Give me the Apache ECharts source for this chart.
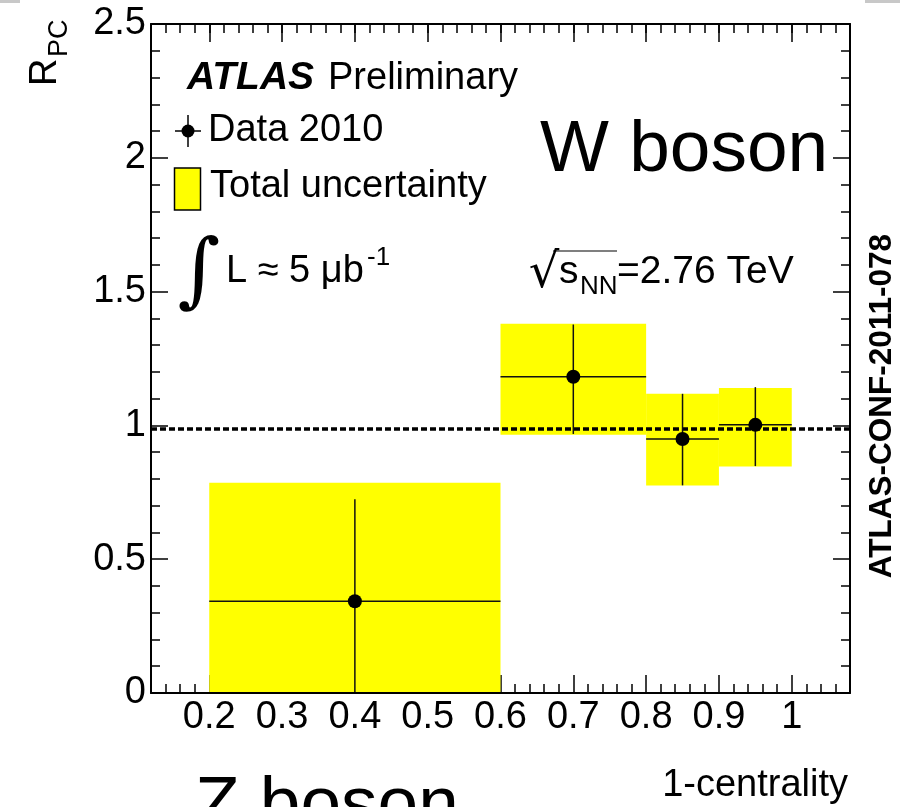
<!DOCTYPE html>
<html>
<head>
<meta charset="utf-8">
<script src="https://cdn.jsdelivr.net/npm/echarts@6/dist/echarts.min.js"></script>
<style>
html,body{margin:0;padding:0;background:#fff;}
#chart{width:900px;height:807px;}
</style>
</head>
<body>
<div id="chart"></div>
<script>
// ---- data ----
const bosons     = ['Z', 'W', 'W', 'W'];
const binCenters = [0.40, 0.70, 0.85, 0.95];
const binLow     = [0.20, 0.60, 0.80, 0.90];
const binHigh    = [0.60, 0.80, 0.90, 1.00];
const rpc        = [0.343, 1.182, 0.949, 1.002];
const errLow     = [-0.04, 0.968, 0.776, 0.848];
const errHigh    = [0.724, 1.377, 1.118, 1.143];
const totLow     = [-0.10, 0.965, 0.775, 0.846];
const totHigh    = [0.786, 1.380, 1.118, 1.140];
const refLevel   = 0.987;

const xMin = 0.12, xMax = 1.08;
const yMin = 0, yMax = 2.5;
const xMajorTicks = [0.2, 0.3, 0.4, 0.5, 0.6, 0.7, 0.8, 0.9, 1.0];
const xMinorTicks = [];
for (let k = 6; k <= 54; k++) xMinorTicks.push(+(k * 0.02).toFixed(2));

const FONT = 'Liberation Sans, Arial, Helvetica, sans-serif';

const boxData = binLow.map((lo, i) => [lo, binHigh[i], totLow[i], totHigh[i]]);
const ptData = binCenters.map((x, i) => [x, rpc[i], binLow[i], binHigh[i], errLow[i], errHigh[i]]);

const chart = echarts.init(document.getElementById('chart'), null, {renderer: 'canvas'});

function xAxisBase(pos) {
  return {
    type: 'value', position: pos, min: xMin, max: xMax,
    splitLine: {show: false}, axisLabel: {show: false}, axisTick: {show: false},
    axisLine: {show: false}
  };
}

const xAxes = [
  Object.assign(xAxisBase('bottom'), {
    z: 10,
    axisLine: {show: true, onZero: false, lineStyle: {color: '#000', width: 2}},
    axisLabel: {show: true, customValues: xMajorTicks, margin: 6, fontSize: 38, fontFamily: FONT, color: '#000',
                formatter: v => String(+v.toFixed(2))}
  }),
  Object.assign(xAxisBase('bottom'), {
    axisTick: {show: true, inside: true, length: 18, customValues: xMajorTicks, lineStyle: {color: '#000', width: 1.5}}
  }),
  Object.assign(xAxisBase('bottom'), {
    axisTick: {show: true, inside: true, length: 9, customValues: xMinorTicks, lineStyle: {color: '#000', width: 1.5}}
  }),
  Object.assign(xAxisBase('top'), {
    z: 10,
    axisLine: {show: true, onZero: false, lineStyle: {color: '#000', width: 2}},
    axisTick: {show: true, inside: true, length: 18, customValues: xMajorTicks, lineStyle: {color: '#000', width: 1.5}}
  }),
  Object.assign(xAxisBase('top'), {
    axisTick: {show: true, inside: true, length: 9, customValues: xMinorTicks, lineStyle: {color: '#000', width: 1.5}}
  })
];

function yAxisBase(pos, labels) {
  return {
    type: 'value', position: pos, min: yMin, max: yMax, interval: 0.5, z: 10,
    splitLine: {show: false}, minorSplitLine: {show: false},
    axisLine: {show: true, onZero: false, lineStyle: {color: '#000', width: 2}},
    axisTick: {show: true, inside: true, length: 17, lineStyle: {color: '#000', width: 1.5}},
    minorTick: {show: true, splitNumber: 5, length: 9, lineStyle: {color: '#000', width: 1.5}},
    axisLabel: {show: labels, margin: 5, fontSize: 38, fontFamily: FONT, color: '#000'}
  };
}

function txt(x, y, text, size, opts) {
  opts = opts || {};
  return {
    type: 'text', x: x, y: y, rotation: opts.rotation || 0, z: 100,
    style: {
      text: text, fontSize: size, fontFamily: opts.family || FONT,
      fontWeight: opts.weight || 'normal', fontStyle: opts.style || 'normal',
      fill: '#000', align: opts.align || 'left', verticalAlign: 'middle'
    }
  };
}

const graphics = [
  {type: 'rect', shape: {x: 0, y: 0, width: 20, height: 3}, style: {fill: '#c8c8c8'}},
  {type: 'rect', shape: {x: 865, y: 0, width: 35, height: 3}, style: {fill: '#c8c8c8'}},
  // y title R_PC (rotated)
  txt(46, 86, 'R', 38, {rotation: Math.PI / 2}),
  txt(60, 57, 'PC', 27, {rotation: Math.PI / 2}),
  // ATLAS Preliminary
  txt(187, 78, 'ATLAS', 39, {weight: 'bold', style: 'italic'}),
  txt(328, 78.2, 'Preliminary', 38),
  // legend: data marker
  {type: 'line', shape: {x1: 175, y1: 131, x2: 201, y2: 131}, style: {stroke: '#000', lineWidth: 1.5}, z: 100},
  {type: 'line', shape: {x1: 188, y1: 115, x2: 188, y2: 147}, style: {stroke: '#000', lineWidth: 1.5}, z: 100},
  {type: 'circle', shape: {cx: 188, cy: 131, r: 6.5}, style: {fill: '#000'}, z: 100},
  txt(208, 130.8, 'Data 2010', 38),
  // legend: total uncertainty box
  {type: 'rect', shape: {x: 174.5, y: 168, width: 26, height: 42}, style: {fill: '#ffff00', stroke: '#000', lineWidth: 1.5}, z: 100},
  txt(210, 186.1, 'Total uncertainty', 38),
  // luminosity
  txt(199, 276, '\u222B', 82, {align: 'center', family: 'DejaVu Serif'}),
  txt(226, 271.8, 'L \u2248 5 \u03BCb', 38),
  txt(367, 258, '-1', 26),
  // sqrt(s_NN)
  txt(544, 275, '\u221A', 48, {align: 'center', family: 'DejaVu Sans'}),
  {type: 'line', shape: {x1: 553, y1: 251, x2: 617, y2: 251}, style: {stroke: '#000', lineWidth: 1.2}, z: 100},
  txt(559, 271.8, 's', 39),
  txt(580, 287.3, 'NN', 26),
  txt(617, 271.8, '=2.76 TeV', 39),
  // boson labels
  txt(540, 151, 'W boson', 73),
  txt(195, 806.5, 'Z boson', 73),
  // x title
  txt(848, 785.8, '1-centrality', 38, {align: 'right'}),
  // conf note
  txt(882, 406, 'ATLAS-CONF-2011-078', 31.5, {align: 'center', weight: 'bold', rotation: Math.PI / 2})
];

chart.setOption({
  animation: false,
  backgroundColor: '#fff',
  grid: {left: 151, right: 50, top: 24, bottom: 114, show: false},
  xAxis: xAxes,
  yAxis: [yAxisBase('left', true), yAxisBase('right', false)],
  graphic: graphics,
  series: [
    {
      type: 'custom', name: 'Total uncertainty', xAxisIndex: 0, yAxisIndex: 0, z: 2, clip: true, silent: true,
      encode: {x: [0, 1], y: [2, 3]},
      data: boxData,
      renderItem: function (params, api) {
        const p0 = api.coord([api.value(0), api.value(3)]);
        const p1 = api.coord([api.value(1), api.value(2)]);
        return {type: 'rect', shape: {x: p0[0], y: p0[1], width: p1[0] - p0[0], height: p1[1] - p0[1]},
                style: {fill: '#ffff00'}};
      }
    },
    {
      type: 'line', name: 'ref', xAxisIndex: 0, yAxisIndex: 0, z: 3, silent: true, symbol: 'none',
      data: [[xMin, refLevel], [xMax, refLevel]],
      lineStyle: {color: '#000', width: 3.5, type: [6, 3]}
    },
    {
      type: 'custom', name: 'Data 2010', xAxisIndex: 0, yAxisIndex: 0, z: 4, clip: true, silent: true,
      encode: {x: [0, 2, 3], y: [1, 4, 5]},
      data: ptData,
      renderItem: function (params, api) {
        const c = api.coord([api.value(0), api.value(1)]);
        const l = api.coord([api.value(2), api.value(1)]);
        const r = api.coord([api.value(3), api.value(1)]);
        const b = api.coord([api.value(0), api.value(4)]);
        const t = api.coord([api.value(0), api.value(5)]);
        return {type: 'group', children: [
          {type: 'line', shape: {x1: l[0], y1: l[1], x2: r[0], y2: r[1]}, style: {stroke: '#111', lineWidth: 1.5}},
          {type: 'line', shape: {x1: b[0], y1: b[1], x2: t[0], y2: t[1]}, style: {stroke: '#111', lineWidth: 1.5}},
          {type: 'circle', shape: {cx: c[0], cy: c[1], r: 7}, style: {fill: '#000'}}
        ]};
      }
    }
  ]
});
</script>
</body>
</html>
